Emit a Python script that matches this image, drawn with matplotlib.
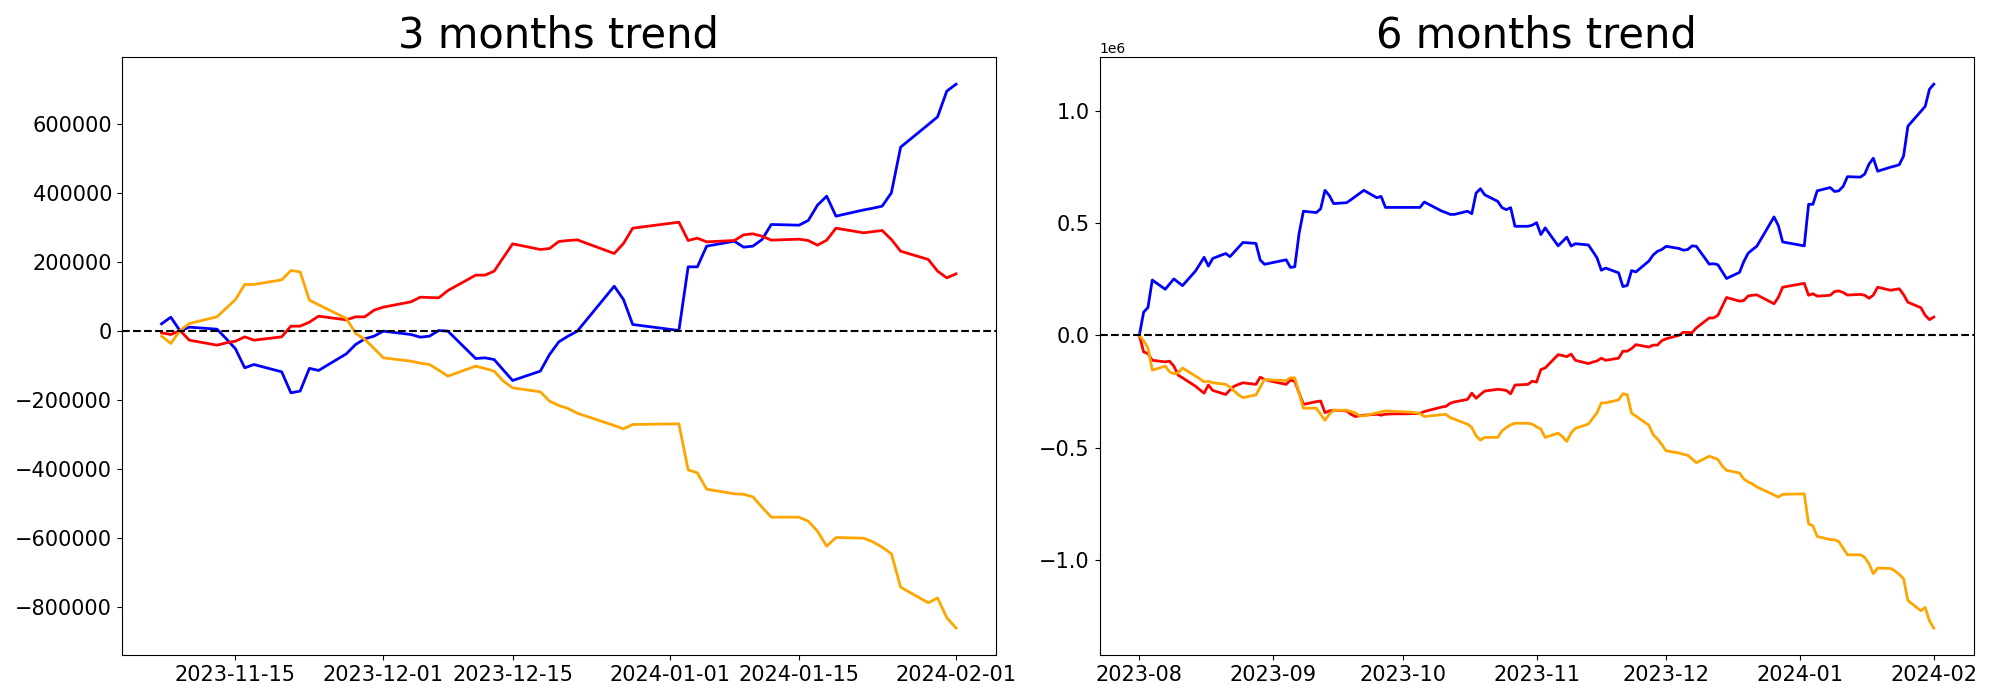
import matplotlib
matplotlib.use("Agg")
import matplotlib.pyplot as plt
import pandas as pd

# trading days; a few holidays are missing from the data
skipped_days = ["2023-12-25", "2023-12-29", "2024-01-01"]
dates_3m = pd.bdate_range("2023-11-07", "2024-02-01").drop(pd.to_datetime(skipped_days))
dates_6m = pd.bdate_range("2023-08-01", "2024-02-01").drop(pd.to_datetime(skipped_days))

# 3 months trend (cumulative from 2023-11-07)
blue_3m = [21300, 40600, 1000, 11600, 5800, -22000, -51300, -106400, -96800, -118000,
           -179000, -174000, -108000, -114000, -65800, -38700, -22300, -14500, 0, -9700,
           -17400, -14500, 1900, 0, -79400, -77400, -82300, -113000, -143200, -116000,
           -67700, -31000, -14500, 0, 130600, 91900, 19400, 1900, 186800, 186800,
           246800, 261300, 243900, 246800, 266100, 309700, 307700, 321300, 365800, 391900,
           333900, 352000, 357000, 362900, 401600, 534200, 600000, 622200, 697000, 717000]
red_3m = [-4800, -9700, 1900, -26100, -40600, -34000, -29000, -16500, -26100, -16500,
          14500, 14500, 26100, 43500, 32900, 41600, 41600, 61000, 69700, 85200,
          98700, 97700, 96800, 118000, 162600, 162600, 174200, 213900, 253500, 237100,
          240000, 260300, 263200, 265100, 225500, 254500, 299000, 316400, 263200, 270000,
          259300, 263200, 279700, 282600, 275800, 264200, 267100, 263200, 249700, 264200,
          299000, 285500, 289000, 292200, 266100, 232200, 208100, 174200, 154800, 166400]
orange_3m = [-14500, -35800, 1900, 22300, 41600, 66800, 91900, 135500, 135500, 149000,
             176100, 172300, 90000, 76700, 36800, -6000, -24200, -50000, -77400, -87100,
             -92900, -96800, -113200, -130600, -101600, -108400, -116100, -145200, -164500, -176100,
             -203200, -215800, -224500, -238100, -273900, -283500, -271000, -269000, -402600, -411300,
             -458700, -472300, -473200, -481000, -511000, -540000, -540000, -551600, -580600, -624200,
             -599000, -601000, -611600, -627100, -646400, -743200, -788700, -774200, -832000, -862000]

# 6 months trend (cumulative from 2023-08-01)
blue_6m = [0, 103000, 124000, 246000, 205000, 228000, 251000, 236000, 221000, 286000,
           316000, 347000, 308000, 342000, 364000, 350000, 371000, 392000, 413000, 409000,
           335000, 316000, 320000, 324000, 336000, 302000, 305000, 453000, 552000, 546000,
           563000, 645000, 622000, 586000, 590000, 603000, 617000, 631000, 645000, 612000,
           618000, 569000, 569000, 569000, 569000, 569000, 569000, 569000, 593000, 563000,
           553000, 546000, 538000, 538000, 552000, 541000, 633000, 652000, 625000, 596000,
           568000, 559000, 568000, 485000, 485000, 490000, 501000, 448000, 478000, 398000,
           417300, 436600, 397000, 407600, 401800, 374000, 344700, 289600, 299200, 278000,
           217000, 222000, 288000, 282000, 330200, 357300, 373700, 381500, 396000, 386300,
           378600, 381500, 397900, 396000, 316600, 318600, 313700, 283000, 252800, 280000,
           328300, 365000, 381500, 396000, 526600, 487900, 415400, 397900, 582800, 582800,
           642800, 657300, 639900, 642800, 662100, 705700, 703700, 717300, 761800, 787900,
           729900, 748000, 753000, 758900, 797600, 930200, 996000, 1018200, 1094700, 1117000]
red_6m = [0, -74000, -81000, -111000, -118000, -115000, -137000, -177000, -189000, -226000,
          -242000, -257000, -221000, -245000, -263000, -243000, -226000, -218000, -211000, -218000,
          -186000, -196000, -201000, -206000, -218000, -199000, -204000, -255000, -307000, -295000,
          -292000, -344000, -336000, -333000, -336000, -351000, -361000, -358000, -355000, -351000,
          -355000, -351000, -350000, -349000, -349000, -348000, -348000, -347000, -339000, -324000,
          -319000, -316000, -302000, -296000, -285000, -257000, -280000, -263000, -248000, -240000,
          -242000, -245000, -260000, -221000, -218000, -204000, -208000, -152000, -145000, -86000,
          -89800, -94700, -83100, -111100, -125600, -119000, -114000, -101500, -111100, -101500,
          -70500, -70500, -58900, -41500, -52100, -43400, -43400, -24000, -15300, 200,
          13700, 12700, 11800, 33000, 77600, 77600, 89200, 128900, 168500, 152100,
          155000, 175300, 178200, 180100, 140500, 169500, 214000, 231400, 178200, 185000,
          174300, 178200, 194700, 197600, 190800, 179200, 182100, 178200, 164700, 179200,
          214000, 200500, 204000, 207200, 181100, 147200, 123100, 89200, 69800, 81400]
orange_6m = [0, -24000, -56000, -155000, -137000, -162000, -171000, -167000, -145000, -181000,
             -193000, -207000, -204000, -211000, -218000, -230000, -248000, -265000, -277000, -265000,
             -230000, -196000, -198000, -199000, -201000, -189000, -189000, -257000, -324000, -324000,
             -351000, -378000, -351000, -333000, -333000, -339000, -344000, -358000, -358000, -345000,
             -341000, -336000, -337000, -338000, -341000, -342000, -344000, -348000, -361000, -355000,
             -353000, -351000, -366000, -373000, -395000, -410000, -447000, -466000, -454000, -454000,
             -425000, -410000, -398000, -391000, -391000, -395000, -407000, -417000, -454000, -435000,
             -450500, -471800, -434100, -413700, -394400, -369200, -344100, -300500, -300500, -287000,
             -259900, -263700, -346000, -359300, -399200, -442000, -460200, -486000, -513400, -523100,
             -528900, -532800, -549200, -566600, -537600, -544400, -552100, -581200, -600500, -612100,
             -639200, -651800, -660500, -674100, -709900, -719500, -707000, -705000, -838600, -847300,
             -894700, -908300, -909200, -917000, -947000, -976000, -976000, -987600, -1016600, -1060200,
             -1035000, -1037000, -1047600, -1063100, -1082400, -1179200, -1224700, -1210200, -1270100, -1302000]

panels = [
    ("3 months trend", dates_3m, blue_3m, red_3m, orange_3m),
    ("6 months trend", dates_6m, blue_6m, red_6m, orange_6m),
]

fig, axes = plt.subplots(1, 2, figsize=(20, 7), dpi=100)

for ax, (title, dates, blue, red, orange) in zip(axes, panels):
    ax.plot(dates, blue, color="blue", linewidth=2)
    ax.plot(dates, red, color="red", linewidth=2)
    ax.plot(dates, orange, color="orange", linewidth=2)
    ax.axhline(0, color="black", linestyle="--", linewidth=1.5)
    ax.set_title(title, fontsize=30)
    ax.tick_params(labelsize=15)

plt.tight_layout()
plt.savefig("out.png")
